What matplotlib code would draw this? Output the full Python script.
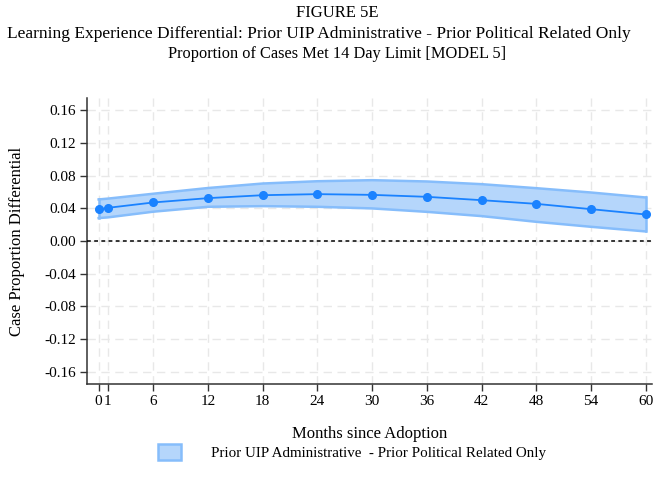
import matplotlib
matplotlib.use("Agg")
import matplotlib.pyplot as plt
from matplotlib.patches import Patch

# Marginal differential by months since adoption
months = [0, 1, 6, 12, 18, 24, 30, 36, 42, 48, 54, 60]
estimate = [0.0388, 0.0407, 0.0473, 0.0526, 0.0562, 0.0575, 0.0566, 0.0542, 0.0501, 0.0456, 0.0391, 0.0326]
ci_upper = [0.0510, 0.0520, 0.0580, 0.0650, 0.0705, 0.0733, 0.0746, 0.0730, 0.0697, 0.0648, 0.0595, 0.0534]
ci_lower = [0.0282, 0.0290, 0.0360, 0.0420, 0.0428, 0.0420, 0.0400, 0.0358, 0.0306, 0.0236, 0.0175, 0.0118]

x_ticks = [0, 1, 6, 12, 18, 24, 30, 36, 42, 48, 54, 60]
x_ticklabels = ["0", "1", "6", "12", "18", "24", "30", "36", "42", "48", "54", "60"]
y_ticks = [0.16, 0.12, 0.08, 0.04, 0.00, -0.04, -0.08, -0.12, -0.16]

title_lines = [
    "FIGURE 5E",
    "Learning Experience Differential: Prior UIP Administrative - Prior Political Related Only",
    "Proportion of Cases Met 14 Day Limit [MODEL 5]",
]
legend_label = "Prior UIP Administrative  - Prior Political Related Only"

plt.rcParams["font.family"] = ["Liberation Serif", "DejaVu Serif"]

fig = plt.figure(figsize=(6.54, 4.91), dpi=100)
ax = fig.add_axes([0.133, 0.218, 0.864, 0.582])

line_color = "#1a82ff"
fill_color = "#b5d6fb"
edge_color = "#86bdfb"

# Confidence band
ax.fill_between(months, ci_lower, ci_upper, color=fill_color, zorder=2, linewidth=0)
ax.plot(months, ci_upper, color=edge_color, lw=1.8, zorder=2.5)
ax.plot(months, ci_lower, color=edge_color, lw=1.8, zorder=2.5)
ax.plot([months[0], months[0]], [ci_lower[0], ci_upper[0]], color=edge_color, lw=1.8, zorder=2.5)
ax.plot([months[-1], months[-1]], [ci_lower[-1], ci_upper[-1]], color=edge_color, lw=1.8, zorder=2.5)

# Point estimates
ax.plot(months, estimate, color=line_color, lw=1.3, marker="o", ms=5.5, zorder=4)

# Zero reference
ax.axhline(0, color="black", lw=1.1, ls=(0, (2.5, 2.2)), zorder=3)

ax.set_xlim(-1.28, 60.7)
ax.set_ylim(-0.175, 0.175)
ax.set_xticks(x_ticks)
ax.set_xticklabels(x_ticklabels)
ax.set_yticks(y_ticks)
ax.set_yticklabels([f"{v:.2f}" for v in y_ticks])

ax.grid(True, color="#e8e8e8", lw=1.0, ls=(0, (6, 4)), zorder=0)
ax.set_axisbelow(True)

for side in ["top", "right"]:
    ax.spines[side].set_visible(False)
for side in ["left", "bottom"]:
    ax.spines[side].set_color("#333333")
    ax.spines[side].set_linewidth(1.1)

ax.tick_params(axis="both", labelsize=11, length=5, width=1.0, color="#333333", pad=3)

ax.set_xlabel("Months since Adoption", fontsize=12, labelpad=13)
ax.set_ylabel("Case Proportion Differential", fontsize=12, labelpad=14)

# Title block, one line at a time
title_x = [337, 319, 337]
title_size = [12, 12.5, 11.8]
for i, t in enumerate(title_lines):
    fig.text(title_x[i] / 654, 1 - (13 + i * 20.5) / 491, t, ha="center", va="center",
             fontsize=title_size[i])

handle = Patch(facecolor=fill_color, edgecolor=edge_color, linewidth=1.8)
fig.legend([handle], [legend_label], loc="center", bbox_to_anchor=(0.538, 1 - 452 / 491),
           frameon=False, fontsize=10.8, handlelength=1.5, handleheight=1.25, handletextpad=2.0)

fig.savefig("out.png", dpi=100)
